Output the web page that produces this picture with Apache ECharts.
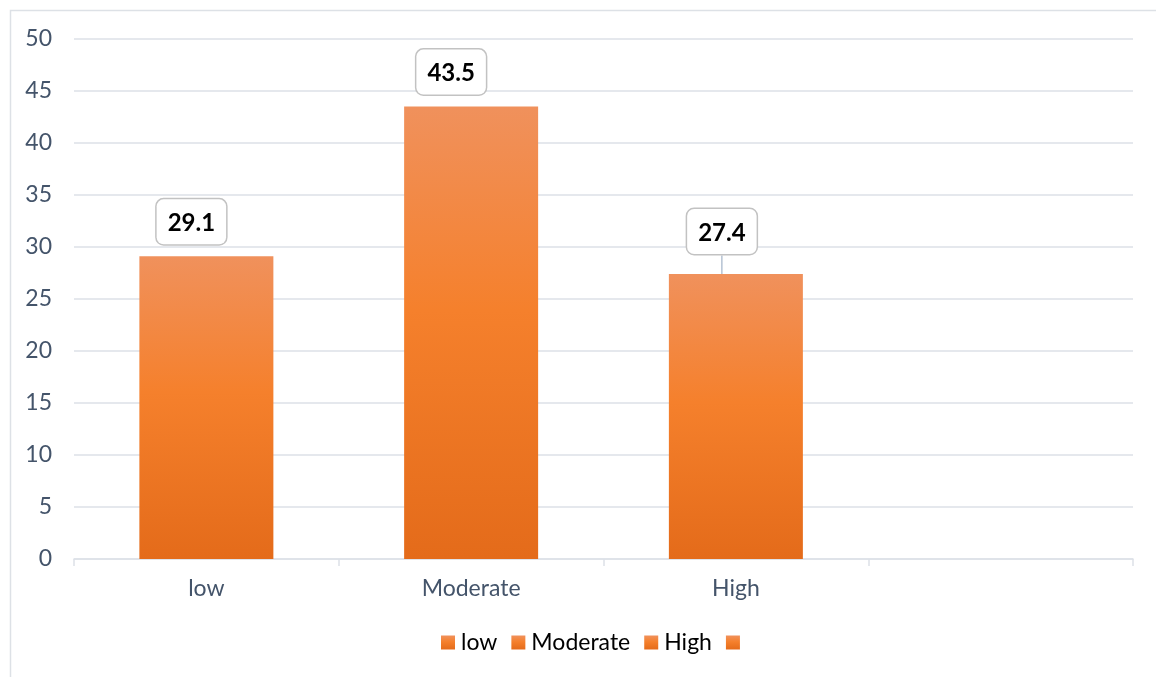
<!DOCTYPE html>
<html>
<head>
<meta charset="utf-8">
<script src="https://cdn.jsdelivr.net/npm/echarts@6/dist/echarts.min.js"></script>
<style>
  html, body { margin: 0; padding: 0; background: #fff; }
  #chart { width: 1156px; height: 677px; }
</style>
</head>
<body>
<div id="chart"></div>
<script>
// Levels shown on the category axis (last slot is intentionally blank)
const categories = ['low', 'Moderate', 'High', ''];
// Series names, one per level (the last entry has no label text)
const seriesNames = ['low', 'Moderate', 'High', ' '];
// Percentage per level
const values = [29.1, 43.5, 27.4, null];
// Y-axis range
const yMin = 0, yMax = 50, yStep = 5;

const FONT = 'Lato, "Open Sans", sans-serif';
const AXIS_TEXT = '#44546A';
const GRID_LINE = '#DDE1E7';

const barFill = new echarts.graphic.LinearGradient(0, 0, 0, 1, [
  { offset: 0, color: '#F0915C' },
  { offset: 0.45, color: '#F5802C' },
  { offset: 1, color: '#E46B1A' }
]);

// Label placement tweaks per level (horizontal shift, extra lift, leader line)
const labelShift = [
  { dx: -15, dy: 0, line: false },
  { dx: -20, dy: 0, line: false },
  { dx: -14, dy: -8, line: true },
  { dx: 0, dy: 0, line: false }
];

const series = seriesNames.map((name, i) => {
  const data = categories.map((c, j) => (j === i ? values[j] : null));
  const s = {
    name: name,
    type: 'bar',
    data: data,
    barWidth: 134,
    barGap: '-100%',
    itemStyle: { color: barFill },
    label: {
      show: true,
      position: 'top',
      distance: 12,
      fontFamily: FONT,
      fontSize: 24,
      fontWeight: 'bold',
      color: '#000',
      backgroundColor: '#fff',
      borderColor: '#C2C2C2',
      borderWidth: 1.5,
      borderRadius: 7,
      padding: [12, 11, 9, 11]
    },
    labelLayout: { dx: labelShift[i].dx, dy: labelShift[i].dy },
    emphasis: { disabled: true }
  };
  if (labelShift[i].line) {
    s.labelLine = { show: true, lineStyle: { color: '#A9B8CC', width: 1.3 } };
  }
  return s;
});

const chart = echarts.init(document.getElementById('chart'), null, { renderer: 'canvas' });
chart.setOption({
  animation: false,
  backgroundColor: '#fff',
  graphic: [{
    type: 'rect',
    shape: { x: 10.5, y: 10.5, width: 1300, height: 800 },
    style: { fill: 'none', stroke: '#DDE1E6', lineWidth: 1.5 },
    silent: true
  }],
  grid: { left: 74, right: 23, top: 39, bottom: 118, containLabel: false },
  legend: {
    bottom: 18,
    left: 436,
    icon: 'rect',
    itemWidth: 14,
    itemHeight: 14,
    itemGap: 14,
    textStyle: { fontFamily: FONT, fontSize: 23, color: '#000', padding: [0, 0, 0, 1] },
    data: seriesNames
  },
  xAxis: {
    type: 'category',
    data: categories,
    axisLine: { lineStyle: { color: GRID_LINE, width: 1.5 } },
    axisTick: { show: true, length: 7, lineStyle: { color: GRID_LINE, width: 1.5 } },
    axisLabel: { fontFamily: FONT, fontSize: 23, color: AXIS_TEXT, margin: 18 }
  },
  yAxis: {
    type: 'value',
    min: yMin,
    max: yMax,
    interval: yStep,
    axisLine: { show: false },
    axisTick: { show: false },
    splitLine: { lineStyle: { color: GRID_LINE, width: 1.5 } },
    axisLabel: { fontFamily: FONT, fontSize: 23, color: AXIS_TEXT, margin: 22 }
  },
  series: series
});
</script>
</body>
</html>
